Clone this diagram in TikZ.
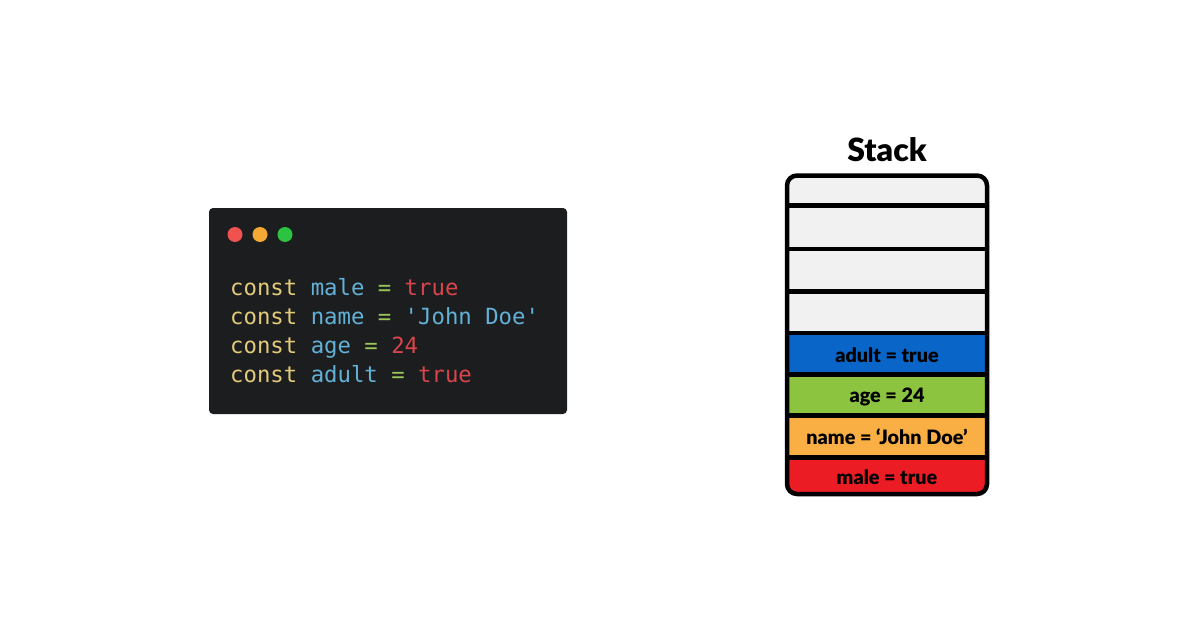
\documentclass[tikz,border=0pt]{standalone}
\usepackage{fontspec}
\setmainfont{Lato}
\newfontfamily\heavyfont{Lato Black}
\newfontfamily\codefont{DejaVu Sans Mono}
\definecolor{codebg}{HTML}{1C1D1F}
\definecolor{dotred}{HTML}{F0524F}
\definecolor{dotorange}{HTML}{F5A935}
\definecolor{dotgreen}{HTML}{2BC340}
\definecolor{kw}{HTML}{E3CB7A}
\definecolor{idf}{HTML}{62B1D6}
\definecolor{eqc}{HTML}{9BC65A}
\definecolor{val}{HTML}{D8454C}
\definecolor{cellgray}{HTML}{F1F1F1}
\definecolor{cellblue}{HTML}{0A65C8}
\definecolor{cellgreen}{HTML}{8CC43F}
\definecolor{cellorange}{HTML}{FAAF45}
\definecolor{cellred}{HTML}{EC1C24}
\tikzset{
  codeline/.style={anchor=base west, inner sep=0pt, font=\codefont\fontsize{22.3}{26}\selectfont},
  dot/.style={circle, minimum size=15pt, inner sep=0pt},
  celllabel/.style={font=\heavyfont\fontsize{19.8}{23}\selectfont, text=black, inner sep=0pt},
  divider/.style={line width=4.5pt, black},
}
\begin{document}
\begin{tikzpicture}[x=1pt,y=-1pt]
\useasboundingbox[fill=white] (0,0) rectangle (1200,634);
% code window
\node[fill=codebg, rounded corners=4pt, minimum width=358pt, minimum height=206pt, inner sep=0pt] (win) at (388,311) {};
\node[dot, fill=dotred] (d1) at (235,234.5) {};
\node[dot, fill=dotorange] (d2) at (260,234.5) {};
\node[dot, fill=dotgreen] (d3) at (285,234.5) {};
\node[codeline] (l1) at (230,295.5) {\textcolor{kw}{const} \textcolor{idf}{male} \textcolor{eqc}{=} \textcolor{val}{true}};
\node[codeline] (l2) at (230,324.5) {\textcolor{kw}{const} \textcolor{idf}{name} \textcolor{eqc}{=} \textcolor{idf}{\char"27 John Doe\char"27}};
\node[codeline] (l3) at (230,353.3) {\textcolor{kw}{const} \textcolor{idf}{age} \textcolor{eqc}{=} \textcolor{val}{24}};
\node[codeline] (l4) at (230,382) {\textcolor{kw}{const} \textcolor{idf}{adult} \textcolor{eqc}{=} \textcolor{val}{true}};
% stack
\node[font=\heavyfont\fontsize{32}{38}\selectfont, inner sep=0pt] (title) at (887,150) {Stack};
\begin{scope}
  \clip[rounded corners=10pt] (787,175.5) rectangle (987,494);
  \fill[cellgray] (787,175.5) rectangle (987,333);
  \fill[cellblue] (787,333) rectangle (987,374.5);
  \fill[cellgreen] (787,374.5) rectangle (987,415.5);
  \fill[cellorange] (787,415.5) rectangle (987,457.5);
  \fill[cellred] (787,457.5) rectangle (987,494);
\end{scope}
\foreach \yy in {205.5,249,291.5,333,374.5,415.5,457.5}{
  \draw[divider] (787,\yy) -- (987,\yy);
}
\draw[line width=4.5pt, rounded corners=10pt] (787,175.5) rectangle (987,494);
\node[celllabel] (c4) at (887,355.5) {adult = true};
\node[celllabel] (c3) at (887,396.5) {age = 24};
\node[celllabel] (c2) at (887,437) {name = ‘John Doe’};
\node[celllabel] (c1) at (887,477.5) {male = true};
\end{tikzpicture}
\end{document}
